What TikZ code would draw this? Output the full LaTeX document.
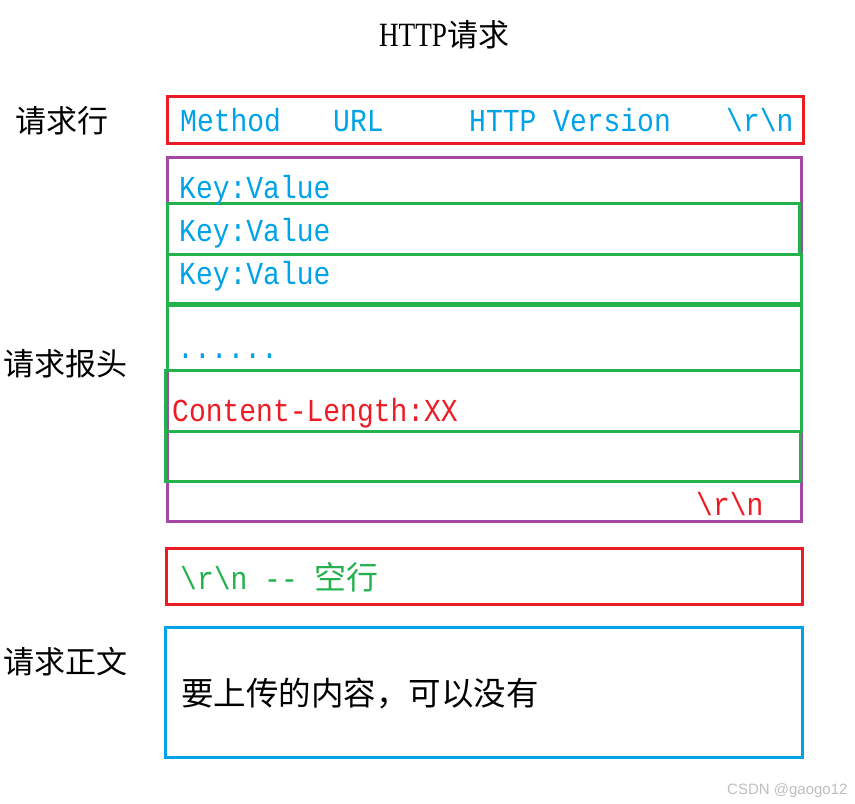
\documentclass[tikz,border=0pt]{standalone}
\usepackage{fontspec}
\setmainfont{Liberation Serif}
\newfontfamily\cjk{Noto Sans CJK SC}
\newfontfamily\mono[FakeStretch=0.875]{Liberation Mono}
\newfontfamily\titlefont[FakeStretch=0.8]{Liberation Serif}
\newfontfamily\wmfont{Liberation Sans}
\definecolor{cred}{HTML}{ED1C24}
\definecolor{cpurple}{HTML}{A349A4}
\definecolor{cgreen}{HTML}{22B14C}
\definecolor{cblue}{HTML}{00A2E8}
\tikzset{
  frame/.style={line width=3pt},
  txt/.style={inner sep=0pt, anchor=base west},
  monotxt/.style={txt, font=\mono\fontsize{32}{38}\selectfont},
  cjktxt/.style={txt, font=\cjk\fontsize{32.5}{38}\selectfont},
  labeltxt/.style={txt, font=\cjk\fontsize{31}{36}\selectfont},
}
\begin{document}
\begin{tikzpicture}[x=1pt,y=-1pt]
\useasboundingbox[fill=white] (0,0) rectangle (855,804);
% title
\node[inner sep=0pt, anchor=base] (title) at (444,46) {\titlefont\fontsize{34}{40}\selectfont HTTP{\cjk\fontsize{31}{36}\selectfont 请求}};
% left labels
\node[labeltxt] (lreq) at (15,132) {请求行};
\node[labeltxt] (lhead) at (3,375) {请求报头};
\node[labeltxt] (lbody) at (3,673) {请求正文};
% boxes
\draw[frame, cred] (167,96) rectangle (803,143);
\draw[frame, cpurple] (167,157) rectangle (801,521);
\draw[frame, cgreen] (167,203) rectangle (799,254);
\draw[frame, cgreen] (167,254) rectangle (801,303);
\draw[frame, cgreen] (167,305) rectangle (801,370);
\draw[frame, cgreen] (165,370) rectangle (801,431);
\draw[frame, cgreen] (165,431) rectangle (800,481);
\draw[frame, cred] (166,548) rectangle (802,604);
\draw[frame, cblue] (165,627) rectangle (802,757);
% request line text
\node[monotxt, text=cblue] (method) at (180,131.5) {Method};
\node[monotxt, text=cblue] (url) at (333,131.5) {URL};
\node[monotxt, text=cblue] (ver) at (469,131.5) {HTTP Version};
\node[monotxt, text=cblue] (crlf1) at (726,131.5) {\textbackslash r\textbackslash n};
% headers
\node[monotxt, text=cblue] (kv1) at (179,198) {Key:Value};
\node[monotxt, text=cblue] (kv2) at (179,241) {Key:Value};
\node[monotxt, text=cblue] (kv3) at (179,284) {Key:Value};
\node[monotxt, text=cblue] (dots) at (177,358) {......};
\node[monotxt, text=cred] (clen) at (172,421) {Content-Length:XX};
\node[monotxt, text=cred] (crlf2) at (696,515) {\textbackslash r\textbackslash n};
% blank line
\node[monotxt, text=cgreen] (blank) at (180,589) {\textbackslash r\textbackslash n -{}- {\cjk 空行}};
% body
\node[cjktxt] (body) at (181,705) {要上传的内容，可以没有};
% watermark
\node[txt, font=\wmfont\fontsize{15}{18}\selectfont, text=black!25] (wm) at (727,794) {CSDN @gaogo12};
\end{tikzpicture}
\end{document}
